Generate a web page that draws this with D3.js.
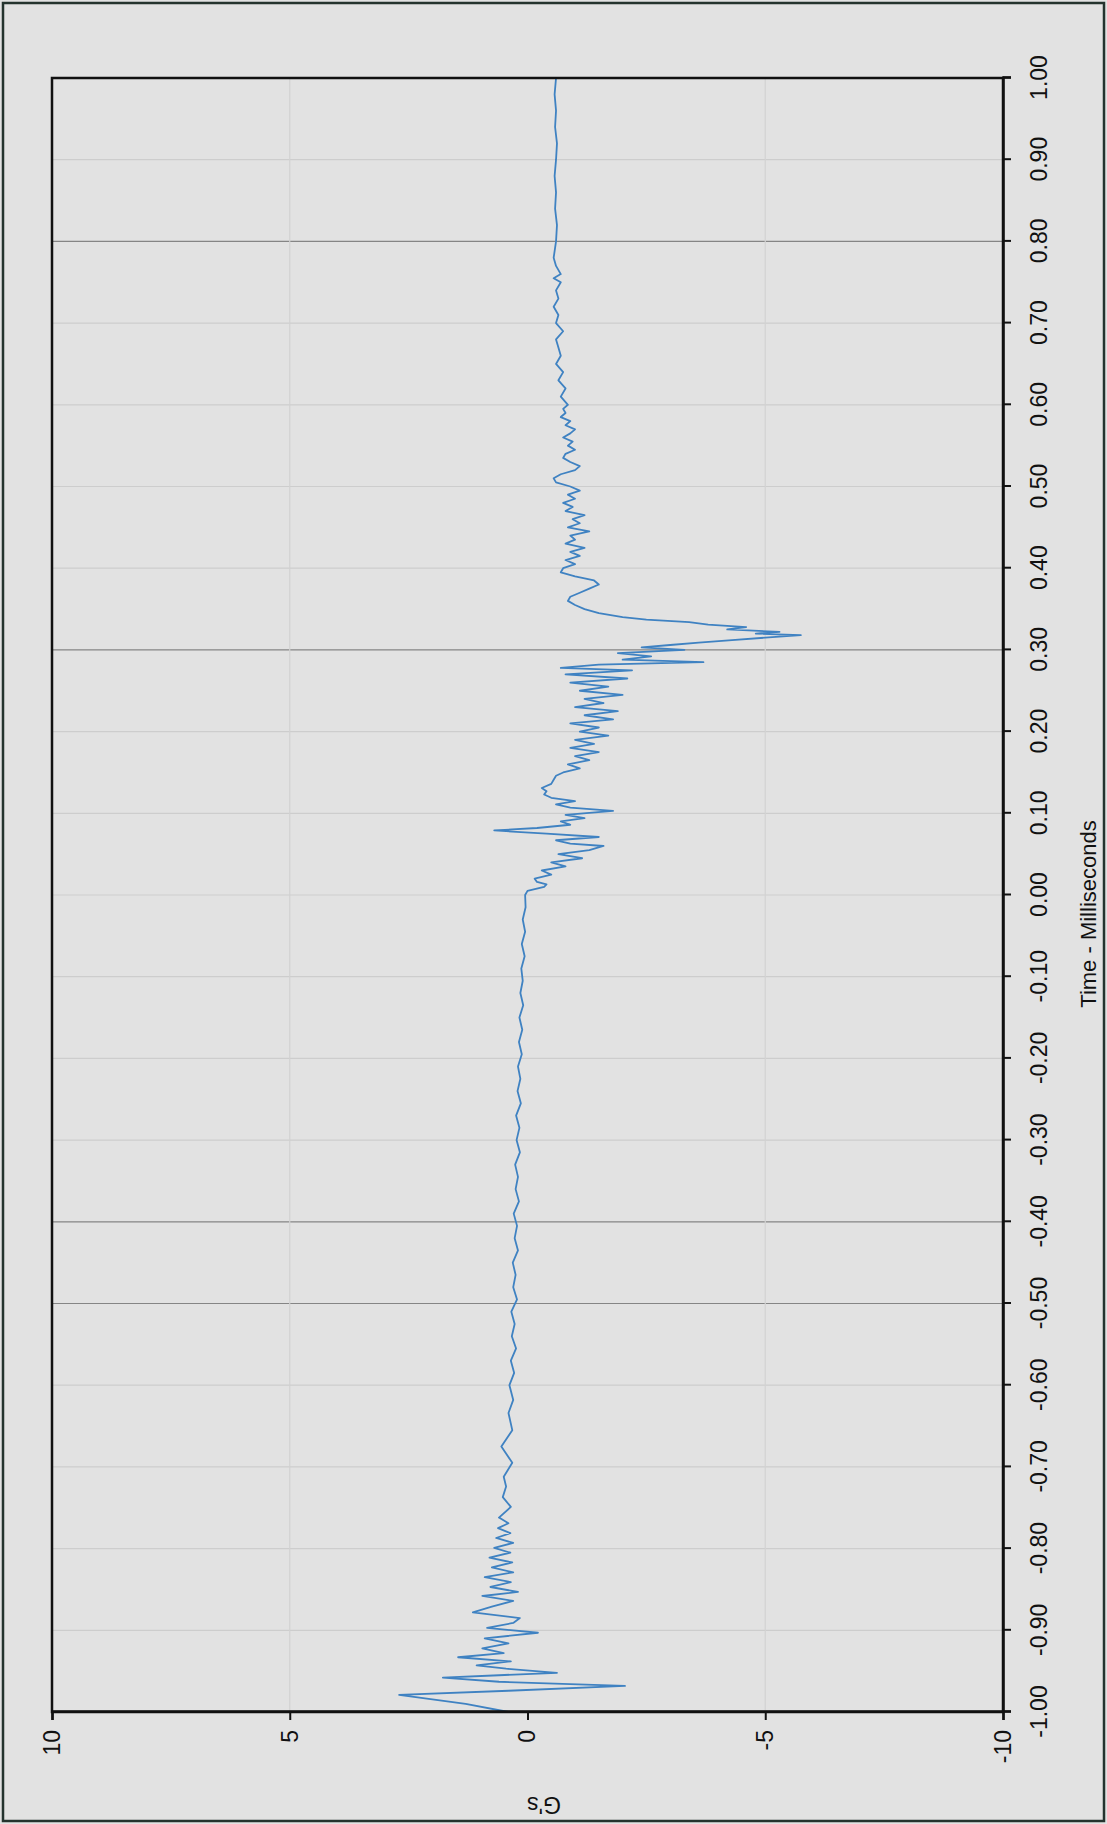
<!DOCTYPE html>
<html>
<head>
<meta charset="utf-8">
<script src="https://cdn.jsdelivr.net/npm/d3@7"></script>
<style>
  html, body { margin: 0; padding: 0; background: #e2e2e2; }
  svg { display: block; }
  text { font-family: "Liberation Sans", Arial, sans-serif; fill: #111; }
</style>
</head>
<body>
<script>
// Time axis ticks (milliseconds) and their printed labels
const timeTicks = [-1.0, -0.9, -0.8, -0.7, -0.6, -0.5, -0.4, -0.3, -0.2, -0.1, 0.0,
                   0.1, 0.2, 0.3, 0.4, 0.5, 0.6, 0.7, 0.8, 0.9, 1.0];
const timeTickLabels = ["-1.00", "-0.90", "-0.80", "-0.70", "-0.60", "-0.50", "-0.40", "-0.30", "-0.20", "-0.10", "0.00",
                        "0.10", "0.20", "0.30", "0.40", "0.50", "0.60", "0.70", "0.80", "0.90", "1.00"];
// Gridlines that print darker on this sheet
const darkGridTimes = [-0.5, -0.4, 0.3, 0.8];

// Acceleration axis ticks (G's)
const gTicks = [-10, -5, 0, 5, 10];
const gTickLabels = ["-10", "-5", "0", "5", "10"];
const gGridValues = [5, -5];

// Recorded acceleration trace: time (ms) and acceleration (G)
const timeMs = [
  -1.000, -0.990, -0.979, -0.974, -0.968, -0.963, -0.958, -0.955, -0.952, -0.947,
  -0.943, -0.938, -0.933, -0.928, -0.922, -0.916, -0.910, -0.903, -0.897, -0.891,
  -0.885, -0.878, -0.871, -0.864, -0.858, -0.853, -0.847, -0.841, -0.835, -0.829,
  -0.823, -0.817, -0.811, -0.805, -0.799, -0.793, -0.787, -0.781, -0.775, -0.769,
  -0.762, -0.749, -0.737, -0.724, -0.712, -0.695, -0.675, -0.655, -0.634, -0.618,
  -0.600, -0.585, -0.570, -0.555, -0.540, -0.525, -0.510, -0.495, -0.480, -0.465,
  -0.450, -0.435, -0.420, -0.405, -0.390, -0.375, -0.360, -0.345, -0.330, -0.315,
  -0.300, -0.285, -0.270, -0.255, -0.240, -0.225, -0.210, -0.195, -0.180, -0.165,
  -0.150, -0.135, -0.120, -0.105, -0.090, -0.075, -0.060, -0.045, -0.030, -0.015,
  0.000, 0.005, 0.010, 0.013, 0.016, 0.020, 0.025, 0.030, 0.035, 0.040,
  0.045, 0.050, 0.055, 0.060, 0.063, 0.067, 0.071, 0.075, 0.079, 0.082,
  0.086, 0.090, 0.094, 0.098, 0.103, 0.107, 0.111, 0.115, 0.119, 0.123,
  0.127, 0.131, 0.136, 0.141, 0.146, 0.150, 0.155, 0.160, 0.165, 0.170,
  0.175, 0.180, 0.185, 0.190, 0.195, 0.200, 0.205, 0.210, 0.215, 0.220,
  0.225, 0.230, 0.235, 0.240, 0.245, 0.250, 0.255, 0.260, 0.265, 0.270,
  0.275, 0.278, 0.282, 0.285, 0.288, 0.292, 0.296, 0.300, 0.303, 0.306,
  0.309, 0.312, 0.315, 0.318, 0.320, 0.322, 0.325, 0.328, 0.331, 0.334,
  0.337, 0.340, 0.345, 0.350, 0.355, 0.360, 0.365, 0.370, 0.375, 0.380,
  0.385, 0.390, 0.395, 0.400, 0.405, 0.410, 0.415, 0.420, 0.425, 0.430,
  0.435, 0.440, 0.445, 0.450, 0.455, 0.460, 0.465, 0.470, 0.475, 0.480,
  0.485, 0.490, 0.495, 0.500, 0.505, 0.510, 0.515, 0.520, 0.525, 0.530,
  0.535, 0.540, 0.545, 0.550, 0.555, 0.560, 0.565, 0.570, 0.575, 0.580,
  0.585, 0.590, 0.595, 0.600, 0.610, 0.620, 0.630, 0.640, 0.650, 0.660,
  0.670, 0.680, 0.690, 0.700, 0.710, 0.720, 0.730, 0.740, 0.750, 0.755,
  0.760, 0.770, 0.780, 0.800, 0.820, 0.840, 0.860, 0.880, 0.900, 0.920,
  0.940, 0.960, 0.980, 1.000
];
const accelG = [
  0.40, 1.30, 2.70, 0.40, -2.05, 0.60, 1.78, 0.60, -0.62, 0.45,
  1.07, 0.35, 1.46, 0.50, 0.95, 0.40, 0.90, -0.22, 0.85, 0.30,
  0.16, 1.15, 0.75, 0.30, 0.95, 0.20, 0.78, 0.35, 0.90, 0.30,
  0.75, 0.32, 0.80, 0.36, 0.70, 0.30, 0.66, 0.36, 0.62, 0.40,
  0.60, 0.35, 0.52, 0.45, 0.50, 0.32, 0.55, 0.32, 0.40, 0.30,
  0.38, 0.28, 0.35, 0.24, 0.33, 0.27, 0.34, 0.22, 0.30, 0.25,
  0.31, 0.20, 0.27, 0.22, 0.29, 0.18, 0.25, 0.20, 0.26, 0.16,
  0.23, 0.17, 0.24, 0.14, 0.21, 0.15, 0.20, 0.12, 0.18, 0.11,
  0.17, 0.09, 0.15, 0.10, 0.13, 0.06, 0.12, 0.05, 0.10, 0.04,
  0.05, 0.00, -0.35, -0.40, -0.20, -0.15, -0.50, -0.30, -0.80, -0.50,
  -1.15, -0.65, -1.30, -1.60, -0.90, -0.60, -1.50, -0.40, 0.70, -0.20,
  -0.90, -0.70, -1.20, -0.80, -1.80, -0.90, -0.60, -1.00, -0.50, -0.35,
  -0.40, -0.30, -0.50, -0.55, -0.60, -0.75, -1.10, -0.85, -1.30, -1.00,
  -1.50, -0.90, -1.40, -1.00, -1.70, -1.10, -1.50, -0.90, -1.80, -1.20,
  -1.90, -1.00, -1.60, -1.20, -2.00, -1.10, -1.70, -0.90, -2.10, -0.80,
  -2.20, -0.70, -1.50, -3.70, -2.00, -2.60, -1.90, -3.30, -2.40, -3.00,
  -3.60, -4.30, -5.00, -5.75, -4.80, -5.30, -4.20, -4.60, -3.80, -3.40,
  -2.50, -2.00, -1.50, -1.20, -1.00, -0.85, -0.90, -1.10, -1.30, -1.50,
  -1.40, -1.00, -0.70, -0.75, -1.00, -0.80, -1.10, -0.90, -1.20, -0.80,
  -1.00, -0.90, -1.30, -0.85, -1.10, -0.95, -1.20, -0.80, -0.95, -0.75,
  -1.00, -0.85, -1.10, -0.90, -0.60, -0.55, -0.70, -1.00, -1.10, -0.90,
  -0.75, -0.80, -1.00, -0.85, -0.95, -0.75, -0.90, -1.00, -0.80, -0.90,
  -0.70, -0.80, -0.75, -0.85, -0.70, -0.80, -0.65, -0.75, -0.60, -0.70,
  -0.65, -0.60, -0.75, -0.60, -0.65, -0.55, -0.65, -0.60, -0.70, -0.55,
  -0.70, -0.60, -0.55, -0.60, -0.62, -0.58, -0.60, -0.57, -0.60, -0.62,
  -0.58, -0.60, -0.57, -0.60
];

const W = 1107, H = 1824;

const svg = d3.select("body").append("svg")
  .attr("width", W).attr("height", H)
  .attr("viewBox", `0 0 ${W} ${H}`);

svg.append("rect").attr("width", W).attr("height", H).attr("fill", "#e2e2e2");

// Sheet border
svg.append("rect")
  .attr("x", 3).attr("y", 3).attr("width", W - 6).attr("height", H - 6)
  .attr("fill", "none").attr("stroke", "#24332e").attr("stroke-width", 2.5);

// The chart is laid out in landscape and turned a quarter turn onto the page
const chart = svg.append("g").attr("transform", `translate(0,${H}) rotate(-90)`);

const plot = { left: 112, right: 1746, top: 52, bottom: 1003 };

const x = d3.scaleLinear().domain([-1, 1]).range([plot.left, plot.right]);
const y = d3.scaleLinear().domain([-10, 10]).range([plot.bottom, plot.top]);

// Gridlines
chart.append("g").selectAll("line").data(timeTicks.filter(t => t > -1 && t < 1))
  .join("line")
  .attr("x1", d => x(d)).attr("x2", d => x(d))
  .attr("y1", plot.top).attr("y2", plot.bottom)
  .attr("stroke", d => darkGridTimes.some(v => Math.abs(v - d) < 1e-9) ? "#858585" : "#cdcdcd")
  .attr("stroke-width", 1.2);

chart.append("g").selectAll("line").data(gGridValues)
  .join("line")
  .attr("x1", plot.left).attr("x2", plot.right)
  .attr("y1", d => y(d)).attr("y2", d => y(d))
  .attr("stroke", "#d2d2d2").attr("stroke-width", 1.2);

// Trace
const trace = timeMs.map((t, i) => ({ t, g: accelG[i] }));
chart.append("path")
  .datum(trace)
  .attr("fill", "none")
  .attr("stroke", "#3f82c2")
  .attr("stroke-width", 1.8)
  .attr("stroke-linejoin", "round")
  .attr("d", d3.line().x(d => x(d.t)).y(d => y(d.g)));

// Plot frame
chart.append("rect")
  .attr("x", plot.left).attr("y", plot.top)
  .attr("width", plot.right - plot.left).attr("height", plot.bottom - plot.top)
  .attr("fill", "none").attr("stroke", "#111").attr("stroke-width", 2.5);

// Time axis
const xAxis = chart.append("g")
  .attr("transform", `translate(0,${plot.bottom})`)
  .call(d3.axisBottom(x).tickValues(timeTicks)
    .tickFormat((d, i) => timeTickLabels[i])
    .tickSize(8).tickPadding(20));

// Acceleration axis
const yAxis = chart.append("g")
  .attr("transform", `translate(${plot.left},0)`)
  .call(d3.axisLeft(y).tickValues(gTicks)
    .tickFormat((d, i) => gTickLabels[i])
    .tickSize(8).tickPadding(10));

[xAxis, yAxis].forEach(a => {
  a.select(".domain").attr("stroke", "#111").attr("stroke-width", 2.5);
  a.selectAll(".tick line").attr("stroke", "#111").attr("stroke-width", 2);
  a.selectAll(".tick text")
    .attr("fill", "#111")
    .style("font-family", "'Liberation Sans', Arial, sans-serif")
    .style("font-size", "23px");
});

// Axis titles
chart.append("text")
  .attr("x", 910).attr("y", 1096)
  .attr("text-anchor", "middle")
  .style("font-size", "22px")
  .text("Time - Milliseconds");

chart.append("text")
  .attr("transform", "translate(27,544) rotate(-90)")
  .attr("text-anchor", "middle")
  .style("font-size", "23px")
  .text("G's");
</script>
</body>
</html>
